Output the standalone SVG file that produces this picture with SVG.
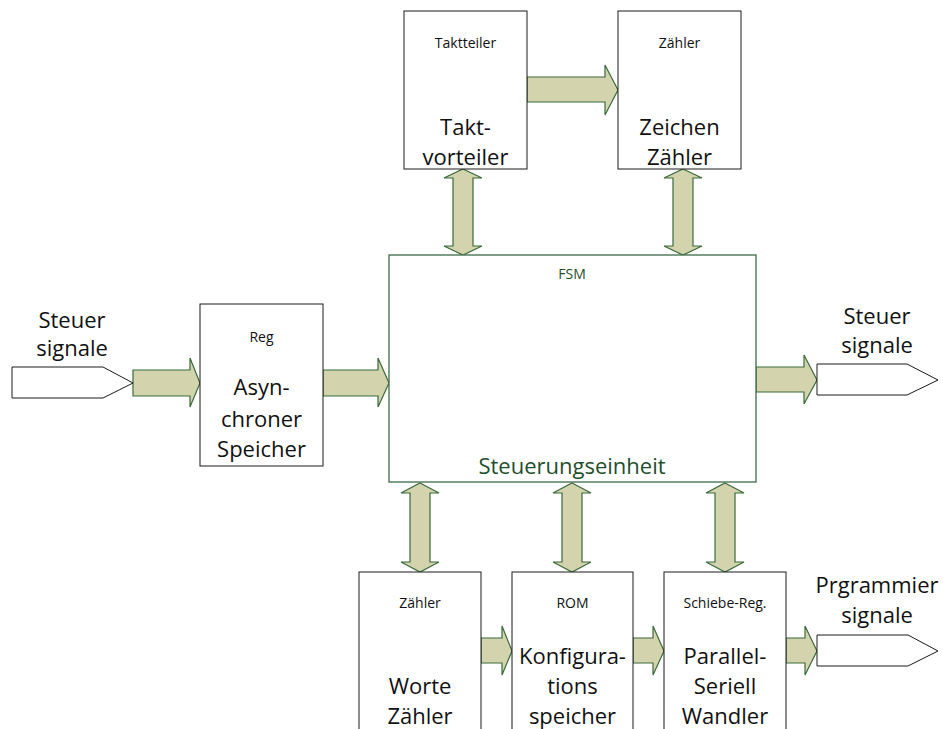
<svg xmlns="http://www.w3.org/2000/svg" width="943" height="729" viewBox="0 0 943 729">
<style>
.box{fill:#fff;stroke:#1a1a1a;stroke-width:1}
.fsm{fill:#fff;stroke:#3d6b47;stroke-width:1.3}
.arr{fill:#d3d4ad;stroke:#3a6a3a;stroke-width:1.2;stroke-linejoin:miter}
.pent{fill:#fff;stroke:#1a1a1a;stroke-width:1}
text{font-family:"Open Sans","Noto Sans",sans-serif;text-anchor:middle;fill:#111}
.s{font-size:14px}
.b{font-size:22px}
.g{fill:#1f4e2c}
</style>
<rect width="943" height="729" fill="#fff"/>
<g id="connectors">
<!-- horizontal arrows -->
<polygon class="arr" points="133,370 190,370 190,358 200,383 190,407 190,396 133,396"/>
<polygon class="arr" points="323,370 378,370 378,358 389,383 378,407 378,396 323,396"/>
<polygon class="arr" points="756,367 804,367 804,355 817,380 804,404 804,392 756,392"/>
<polygon class="arr" points="527,77 605,77 605,65 618,90 605,115 605,102 527,102"/>
<polygon class="arr" points="481,638 502,638 502,626 512,651 502,675 502,663 481,663"/>
<polygon class="arr" points="633,638 653,638 653,626 664,651 653,675 653,663 633,663"/>
<polygon class="arr" points="786,638 805,638 805,626 817,651 805,675 805,663 786,663"/>
<!-- vertical double arrows -->
<polygon class="arr" points="463,169 482,178 473,178 473,246 482,246 463,255 444,246 453,246 453,178 444,178"/>
<polygon class="arr" points="683,169 702,178 693,178 693,246 702,246 683,255 664,246 673,246 673,178 664,178"/>
<polygon class="arr" points="420,483 439,493 430,493 430,562 439,562 420,572 401,562 410,562 410,493 401,493"/>
<polygon class="arr" points="572,483 591,493 582,493 582,562 591,562 572,572 553,562 562,562 562,493 553,493"/>
<polygon class="arr" points="725,483 744,493 735,493 735,562 744,562 725,572 706,562 715,562 715,493 706,493"/>
</g>
<g id="in_steuer">
<polygon class="pent" points="12,367 103,367 133,383 103,398 12,398"/>
<text class="b" x="72" y="328">Steuer</text>
<text class="b" x="72" y="356">signale</text>
</g>
<g id="out_steuer">
<polygon class="pent" points="817,364 907,364 938,380 907,395 817,395"/>
<text class="b" x="877" y="324">Steuer</text>
<text class="b" x="877" y="353">signale</text>
</g>
<g id="out_prog">
<polygon class="pent" points="817,635 908,635 938,651 908,666 817,666"/>
<text class="b" x="877" y="593">Prgrammier</text>
<text class="b" x="877" y="623">signale</text>
</g>
<g id="taktteiler">
<rect class="box" x="404" y="11" width="123" height="158"/>
<text class="s" x="465.5" y="48">Taktteiler</text>
<text class="b" x="465.5" y="135">Takt-</text>
<text class="b" x="465.5" y="165">vorteiler</text>
</g>
<g id="zeichenzaehler">
<rect class="box" x="618" y="11" width="123" height="158"/>
<text class="s" x="679.5" y="48">Zähler</text>
<text class="b" x="679.5" y="135">Zeichen</text>
<text class="b" x="679.5" y="165">Zähler</text>
</g>
<g id="reg">
<rect class="box" x="200" y="304" width="123" height="162"/>
<text class="s" x="261.5" y="342">Reg</text>
<text class="b" x="261.5" y="395">Asyn-</text>
<text class="b" x="261.5" y="427">chroner</text>
<text class="b" x="261.5" y="457">Speicher</text>
</g>
<g id="fsm">
<rect class="fsm" x="389" y="255" width="367" height="227"/>
<text class="s g" x="572" y="279">FSM</text>
<text class="b g" x="572" y="474">Steuerungseinheit</text>
</g>
<g id="wortezaehler">
<rect class="box" x="359" y="572" width="122" height="170"/>
<text class="s" x="420" y="608">Zähler</text>
<text class="b" x="420" y="694">Worte</text>
<text class="b" x="420" y="724">Zähler</text>
</g>
<g id="rom">
<rect class="box" x="512" y="572" width="121" height="170"/>
<text class="s" x="572.5" y="608">ROM</text>
<text class="b" x="572.5" y="664">Konfigura-</text>
<text class="b" x="572.5" y="694">tions</text>
<text class="b" x="572.5" y="724">speicher</text>
</g>
<g id="schieberegister">
<rect class="box" x="664" y="572" width="122" height="170"/>
<text class="s" x="725" y="608">Schiebe-Reg.</text>
<text class="b" x="725" y="664">Parallel-</text>
<text class="b" x="725" y="694">Seriell</text>
<text class="b" x="725" y="724">Wandler</text>
</g>
</svg>
